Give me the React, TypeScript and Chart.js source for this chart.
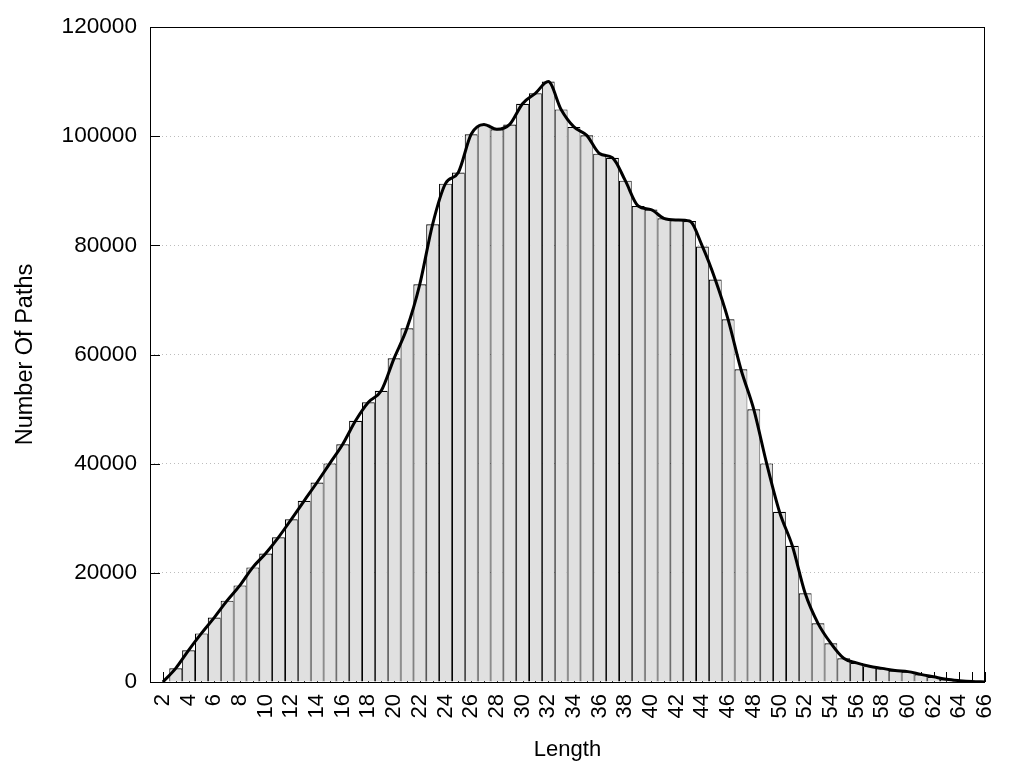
import React, { useEffect, useRef } from 'react';
import { Chart, registerables } from 'chart.js';

Chart.register(...registerables);

const lengths = [
  2, 3, 4, 5, 6, 7, 8, 9, 10, 11, 12, 13, 14, 15, 16, 17, 18, 19, 20, 21, 22,
  23, 24, 25, 26, 27, 28, 29, 30, 31, 32, 33, 34, 35, 36, 37, 38, 39, 40, 41,
  42, 43, 44, 45, 46, 47, 48, 49, 50, 51, 52, 53, 54, 55, 56, 57, 58, 59, 60,
  61, 62, 63, 64, 65, 66,
];

const pathCounts = [
  0, 2500, 5800, 8900, 11800, 14900, 17700, 21000, 23550, 26500, 29800, 33200,
  36550, 40050, 43550, 47850, 51250, 53350, 59300, 64800, 72850, 83850, 91300,
  93350, 100350, 102150, 101250, 102150, 105950, 107850, 110000, 104900,
  101700, 100150, 96800, 96050, 91850, 87200, 86550, 84950, 84650, 84450,
  79800, 73750, 66450, 57300, 49950, 40050, 31200, 24950, 16250, 10750, 7100,
  4350, 3500, 2900, 2500, 2100, 1900, 1400, 950, 500, 250, 80, 0,
];

const xTickLabels = [
  2, 4, 6, 8, 10, 12, 14, 16, 18, 20, 22, 24, 26, 28, 30, 32, 34, 36, 38, 40,
  42, 44, 46, 48, 50, 52, 54, 56, 58, 60, 62, 64, 66,
];

const yTickLabels = [0, 20000, 40000, 60000, 80000, 100000, 120000];

const FONT = "'Liberation Sans', Arial, sans-serif";

export default function App() {
  const ref = useRef<HTMLCanvasElement>(null);

  useEffect(() => {
    const canvas = ref.current;
    if (!canvas) return;

    const framePlugin = {
      id: 'frame',
      beforeDatasetsDraw(chart: any) {
        const { ctx, chartArea } = chart;
        const xs = chart.scales.x;
        const ys = chart.scales.y;
        const left = Math.round(chartArea.left);
        const bottom = Math.round(chartArea.bottom);
        ctx.save();
        ctx.strokeStyle = '#000';
        ctx.lineWidth = 1;
        ctx.beginPath();
        for (const v of lengths) {
          const px = Math.round(xs.getPixelForValue(v)) + 0.5;
          ctx.moveTo(px, bottom);
          ctx.lineTo(px, bottom - 10);
        }
        for (const v of yTickLabels) {
          const py = Math.round(ys.getPixelForValue(v)) + 0.5;
          ctx.moveTo(left, py);
          ctx.lineTo(left + 10, py);
        }
        ctx.stroke();
        ctx.restore();
      },
      afterDatasetsDraw(chart: any) {
        const { ctx, chartArea } = chart;
        const l = Math.round(chartArea.left) + 0.5;
        const t = Math.round(chartArea.top) + 0.5;
        const r = Math.round(chartArea.right) - 0.5;
        const b = Math.round(chartArea.bottom) + 0.5;
        ctx.save();
        ctx.strokeStyle = '#000';
        ctx.lineWidth = 1;
        ctx.strokeRect(l, t, r - l, b - t);
        ctx.restore();
      },
    };

    const points = lengths.map((x, i) => ({ x, y: pathCounts[i] }));

    const chart = new Chart(canvas, {
      type: 'bar',
      data: {
        datasets: [
          {
            type: 'line',
            data: points,
            borderColor: '#000',
            borderWidth: 3,
            pointRadius: 0,
            fill: false,
            cubicInterpolationMode: 'monotone',
            order: 0,
          } as any,
          {
            type: 'bar',
            data: points,
            backgroundColor: '#e0e0e0',
            borderColor: '#000',
            borderWidth: { top: 1.2, left: 1.1, right: 0.8, bottom: 0 },
            borderSkipped: 'start',
            inflateAmount: 0,
            barPercentage: 1,
            categoryPercentage: 1,
            order: 1,
          } as any,
        ],
      },
      options: {
        animation: false,
        responsive: true,
        maintainAspectRatio: false,
        layout: { padding: { left: 0, right: 39, top: 27, bottom: 0 } },
        plugins: {
          legend: { display: false },
          tooltip: { enabled: false },
        },
        scales: {
          x: {
            type: 'linear',
            min: 1,
            max: 66,
            offset: false,
            grid: { display: false, drawTicks: false },
            border: { display: false },
            afterBuildTicks: (s: any) => {
              s.ticks = xTickLabels.map((v) => ({ value: v }));
            },
            afterFit: (s: any) => {
              s.height = 86;
            },
            ticks: {
              autoSkip: false,
              minRotation: 90,
              maxRotation: 90,
              padding: 12,
              color: '#000',
              font: { family: FONT, size: 22 },
              callback: (v: any) => String(v),
            },
            title: {
              display: true,
              text: 'Length',
              color: '#000',
              font: { family: FONT, size: 22 },
              padding: { top: 0, bottom: 5 },
            },
          },
          y: {
            min: 0,
            max: 120000,
            afterBuildTicks: (s: any) => {
              s.ticks = yTickLabels.map((v) => ({ value: v }));
            },
            afterFit: (s: any) => {
              s.width = 150;
            },
            grid: { color: '#bdbdbd', lineWidth: 1, drawTicks: false },
            border: { display: false, dash: [1, 3] },
            ticks: {
              padding: 13,
              color: '#000',
              font: { family: FONT, size: 22.6 },
              callback: (v: any) => String(v),
            },
            title: {
              display: true,
              text: 'Number Of Paths',
              color: '#000',
              font: { family: FONT, size: 23.5 },
              padding: { top: 11, bottom: 0 },
            },
          },
        },
      } as any,
      plugins: [framePlugin],
    });

    return () => chart.destroy();
  }, []);

  return (
    <div style={{ position: 'fixed', left: 0, top: 0, width: 1024, height: 768, background: '#fff' }}>
      <canvas ref={ref} />
    </div>
  );
}
